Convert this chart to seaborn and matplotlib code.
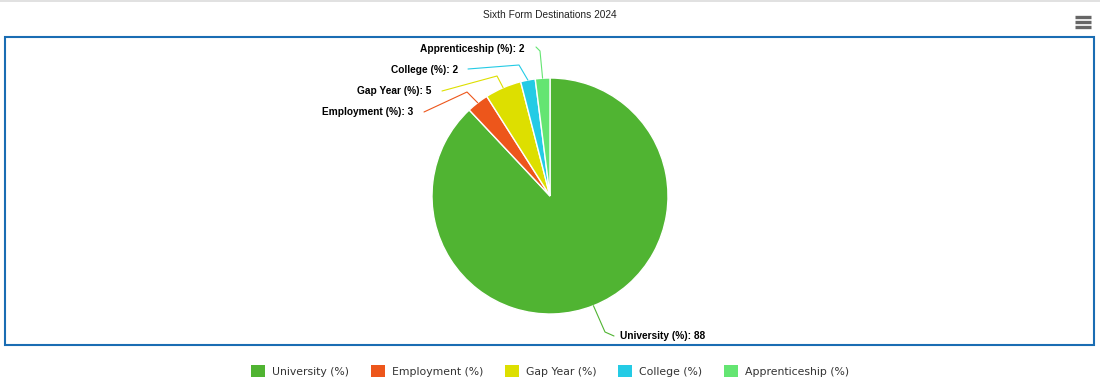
import matplotlib
matplotlib.use("Agg")
import matplotlib.pyplot as plt
import seaborn as sns
import numpy as np
from matplotlib.patches import Rectangle

# ---- data ----
categories = ["University (%)", "Employment (%)", "Gap Year (%)", "College (%)", "Apprenticeship (%)"]
values = [88, 3, 5, 2, 2]
colors = ["#50B432", "#ED561B", "#DDDF00", "#24CBE5", "#64E572"]
title = "Sixth Form Destinations 2024"

sns.set_theme(style="white")
plt.rcParams['font.family'] = ['Liberation Sans', 'DejaVu Sans']

W, H = 1100, 388
fig = plt.figure(figsize=(11, 3.88), dpi=100)
ax = fig.add_axes([0, 0, 1, 1])


def P(x, y):
    return (x, H - y)


cx, cy, R = 550, 196, 118
wedges, _ = ax.pie(values, colors=colors, startangle=90, counterclock=False,
                   center=P(cx, cy), radius=R, frame=True,
                   wedgeprops=dict(edgecolor='white', linewidth=1))
ax.set_xlim(0, W)
ax.set_ylim(0, H)
ax.set_aspect('equal')
ax.axis('off')

# data labels (layout: text anchor, connector start, connector bend)
label_layout = [
    dict(text=P(620, 336), ha='left', start=P(614, 336), bend=P(605, 332)),
    dict(text=P(413, 112), ha='right', start=P(424, 112), bend=P(467, 92)),
    dict(text=P(431, 91), ha='right', start=P(442, 91), bend=P(497, 76)),
    dict(text=P(458, 70), ha='right', start=P(468, 69), bend=P(519, 65)),
    dict(text=P(524, 49), ha='right', start=P(536, 47), bend=P(540, 51)),
]
ccx, ccy = P(cx, cy)
for w, cat, val, col, lay in zip(wedges, categories, values, colors, label_layout):
    mid = np.deg2rad((w.theta1 + w.theta2) / 2)
    ex, ey = ccx + R * np.cos(mid), ccy + R * np.sin(mid)
    xs = [lay['start'][0], lay['bend'][0], ex]
    ys = [lay['start'][1], lay['bend'][1], ey]
    ax.plot(xs, ys, color=col, lw=0.8, solid_joinstyle='round')
    ax.text(lay['text'][0], lay['text'][1], f"{cat}: {val}", ha=lay['ha'], va='center',
            fontsize=7.25, fontweight='bold', color='#000000')

# title
ax.text(550, H - 15, title, ha='center', va='center', fontsize=7.3, color='#222222')

# plot border
ax.add_patch(Rectangle(P(5, 345), 1089, 308, fill=False, edgecolor='#1a6db3', lw=1.5))
# top grey line
ax.plot([0, W], [H - 0.5, H - 0.5], color='#dcdcdc', lw=1.2)
# hamburger menu icon
for yy in (17, 22, 27):
    ax.plot([1075, 1091], [H - yy, H - yy], color='#666666', lw=2.4, solid_capstyle='butt')

leg = ax.legend(wedges, categories, loc='center', bbox_to_anchor=(0.5, 1 - 371 / H), ncol=5,
                frameon=False, prop={'family': 'DejaVu Sans', 'size': 7.8},
                handlelength=1.3, handleheight=1.3, handletextpad=0.65, columnspacing=2.0,
                borderpad=0, borderaxespad=0)
for t in leg.get_texts():
    t.set_color('#333333')
for h in leg.legend_handles:
    h.set_edgecolor('none')

fig.savefig("out.png", dpi=100)
